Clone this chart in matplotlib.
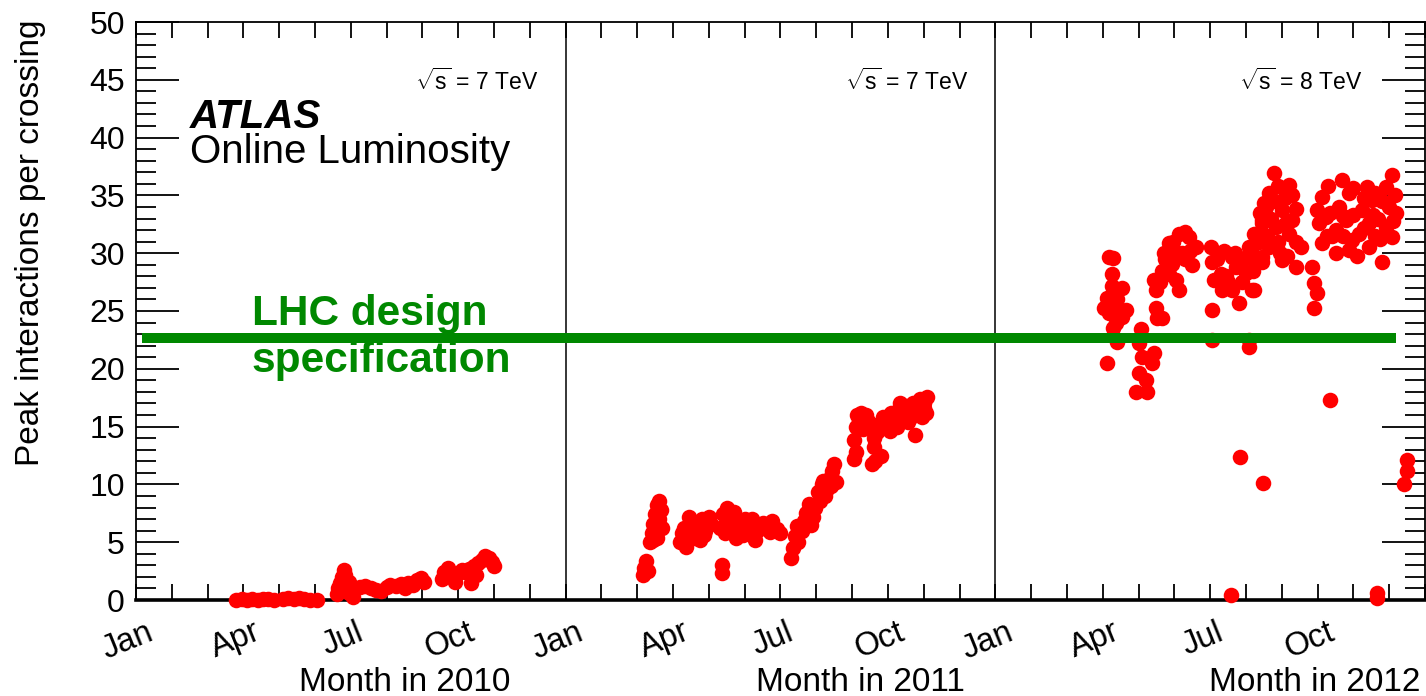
import matplotlib
matplotlib.use("Agg")
import matplotlib.pyplot as plt
import matplotlib.transforms as mtransforms
from matplotlib.ticker import MultipleLocator, FixedLocator, FixedFormatter

plt.rcParams["font.family"] = ["Liberation Sans", "DejaVu Sans"]
plt.rcParams["mathtext.fontset"] = "custom"
plt.rcParams["mathtext.rm"] = "Liberation Sans"

# months counted from Jan 2010 (0) to end of 2012 (36)
x_2010 = [2.8, 2.95, 3.1, 3.25, 3.4, 3.55, 3.7, 3.85,
          4.1, 4.25, 4.4, 4.55, 4.7, 4.85, 5.05,
          5.6, 5.65, 5.7, 5.75, 5.8, 5.85, 5.9, 5.95, 6.0, 6.05, 5.95,
          6.1, 6.25, 6.4, 6.55, 6.7, 6.85, 7.0, 7.1, 7.25, 7.4, 7.5,
          7.6, 7.75, 7.85, 7.95, 8.05,
          8.55, 8.6, 8.7, 8.8, 8.9, 9.0, 9.1, 9.2, 9.3, 9.35, 9.45,
          9.5, 9.55, 9.65, 9.75, 9.85, 9.95, 10.0]
y_2010 = [0.0, 0.05, 0.0, 0.1, 0.0, 0.05, 0.1, 0.0,
          0.1, 0.2, 0.1, 0.2, 0.1, 0.0, 0.0,
          0.5, 1.0, 1.5, 2.0, 2.6, 2.2, 1.2, 0.6, 0.8, 0.3, 1.6,
          1.0, 1.1, 1.2, 1.0, 0.9, 0.8, 1.1, 1.3, 1.2, 1.4, 1.0,
          1.5, 1.3, 1.7, 1.9, 1.6,
          1.8, 2.4, 2.8, 2.2, 1.6, 2.3, 2.6, 2.4, 2.7, 1.5, 2.9,
          2.2, 3.2, 3.5, 3.8, 3.6, 3.3, 2.9]

x_2011 = [14.15, 14.2, 14.25, 14.3,
          14.35, 14.4, 14.45, 14.5, 14.55, 14.6, 14.65, 14.7, 14.55, 14.5,
          14.45, 14.6,
          15.2, 15.3, 15.4, 15.5, 15.6, 15.7, 15.8, 15.9, 16.0, 16.05,
          15.35, 15.75, 15.25, 15.45, 15.65, 15.85, 15.55,
          16.38, 16.38,
          16.3, 16.4, 16.5, 16.55, 16.65, 16.75, 16.85, 16.95, 17.1, 17.2,
          17.35, 17.5, 17.6, 17.75, 17.9, 18.0, 17.3,
          16.45, 16.6, 16.7, 16.9, 17.0, 17.15, 17.4, 17.7,
          18.3, 18.35, 18.4, 18.45, 18.5, 18.6, 18.7, 18.8, 18.85, 18.95,
          19.05, 19.15, 19.25, 19.35, 19.45, 19.5, 19.55, 19.3,
          18.65, 18.9, 19.1, 19.2, 19.4,
          20.05, 20.05, 20.1, 20.15, 20.25, 20.35, 20.45, 20.55, 20.6,
          20.65, 20.7, 20.55, 20.85,
          20.1, 20.2, 20.3, 20.4, 20.6, 20.75, 20.8,
          21.0, 21.1, 21.2, 21.3, 21.4, 21.5, 21.6, 21.7, 21.8, 21.9,
          22.0, 22.05, 21.75, 21.55, 21.95,
          21.05, 21.25, 21.45, 21.65, 21.85, 22.0, 21.35, 22.1]
y_2011 = [2.2, 2.8, 3.4, 2.5,
          5.0, 5.8, 6.6, 7.4, 8.2, 8.6, 7.8, 6.2, 5.4, 6.0,
          5.2, 7.0,
          5.0, 6.2, 5.6, 6.8, 5.4, 6.5, 7.0, 6.0, 7.2, 6.6,
          4.6, 5.2, 5.8, 7.2, 6.0, 5.6, 6.4,
          3.0, 2.3,
          6.2, 7.4, 8.0, 6.0, 7.2, 5.4, 6.8, 5.6, 6.6, 7.0,
          6.0, 6.7, 6.3, 6.8, 6.1, 5.8, 5.2,
          5.8, 6.8, 7.6, 6.2, 7.0, 5.8, 6.5, 5.9,
          3.6, 4.5, 5.5, 6.4, 5.0, 6.0, 7.5, 8.3, 6.5, 8.0,
          9.3, 10.0, 9.0, 10.5, 11.2, 11.8, 10.2, 9.6,
          6.8, 7.2, 8.6, 10.3, 9.9,
          12.2, 13.8, 15.0, 16.0, 16.2, 15.8, 15.5, 15.0, 13.2,
          12.0, 14.5, 11.8, 15.8,
          12.8, 15.5, 14.8, 16.0, 14.0, 15.2, 12.5,
          15.5, 16.2, 15.8, 16.5, 16.0, 16.8, 16.3, 17.0, 16.5, 17.4,
          17.0, 16.2, 14.3, 15.4, 15.8,
          14.6, 15.0, 15.6, 15.8, 16.9, 16.6, 17.0, 17.6]

x_2012 = [27.18, 27.27, 27.54, 27.13, 27.40, 27.18, 27.54, 27.38, 27.40,
          27.13, 27.04, 27.66, 27.30, 27.24, 27.25, 27.45, 27.3,
          27.94, 28.24, 28.02, 28.38, 28.10, 28.44, 28.07, 28.02, 28.52,
          28.66, 28.49, 28.2,
          28.49, 28.44, 28.66, 28.94, 29.14, 29.05, 28.86, 29.14, 29.41,
          29.61, 29.50, 29.22, 28.72, 29.0, 29.3,
          28.75, 28.95, 29.3, 29.45, 28.6, 28.85,
          30.03, 30.06, 30.11, 30.34, 30.61, 30.73, 30.61, 30.81, 31.01,
          31.17, 31.28, 31.09, 31.28, 31.45, 31.51, 31.45, 30.06, 30.06,
          31.09, 31.09, 30.45, 30.9,
          30.2, 30.4, 30.5, 30.7, 30.95, 31.2, 30.3, 31.35,
          31.79, 32.21, 32.29, 31.65, 31.56, 32.01, 32.29, 31.45, 31.84,
          31.23, 32.21, 31.65, 31.17, 31.45, 32.01, 32.54, 32.40, 32.85,
          32.90, 32.99, 32.90, 31.23, 31.9, 31.8,
          31.4, 31.6, 31.7, 31.9, 32.1, 32.1, 32.4, 32.4, 31.95, 32.15,
          33.13, 32.99, 33.04, 33.13, 33.52, 33.68, 33.88, 33.60, 33.80,
          33.52, 33.96, 33.88, 34.38, 34.52, 34.24, 34.44, 34.16, 34.44,
          34.80, 35.08, 34.91, 35.00, 35.19, 34.91, 35.08, 33.24, 34.7,
          34.1, 33.4,
          33.3, 33.35, 33.7, 33.7, 34.0, 34.0, 34.3, 34.3, 34.6, 34.6,
          34.8, 34.75, 35.1, 35.15, 34.55, 33.25,
          30.59, 34.66, 34.66, 35.5, 35.5, 35.42, 30.84, 31.48, 33.35]
y_2012 = [29.7, 28.2, 27.0, 26.1, 26.0, 24.8, 24.5, 24.0, 22.3,
          20.5, 25.3, 25.1, 29.6, 25.5, 27.2, 25.0, 23.5,
          18.0, 18.0, 19.6, 20.5, 21.0, 21.4, 23.4, 22.2, 24.4,
          24.4, 25.3, 19.0,
          26.8, 27.7, 28.5, 29.1, 26.8, 27.7, 30.9, 31.7, 31.4,
          30.5, 29.0, 30.0, 30.0, 30.2, 29.5,
          29.5, 31.0, 31.8, 30.2, 27.5, 28.2,
          30.5, 29.2, 27.7, 26.8, 29.7, 28.8, 26.8, 25.7, 28.3,
          26.8, 29.2, 30.5, 31.7, 32.9, 34.3, 29.7, 25.1, 22.5,
          22.5, 21.9, 28.0, 27.5,
          29.5, 30.2, 27.5, 30.0, 29.5, 28.5, 28.2, 31.0,
          36.9, 35.9, 35.0, 35.2, 34.0, 33.7, 32.9, 32.6, 32.3,
          31.7, 31.7, 30.5, 30.0, 29.2, 29.4, 30.5, 28.8, 28.8,
          27.4, 26.6, 25.3, 26.8, 31.0, 34.5,
          33.5, 31.5, 33.0, 35.8, 34.8, 32.5, 33.8, 31.0, 30.0, 29.8,
          34.9, 33.7, 32.6, 30.9, 30.0, 36.3, 35.2, 34.0, 32.9,
          32.0, 31.1, 30.3, 35.7, 34.6, 33.7, 32.6, 31.7, 30.5,
          29.2, 36.8, 35.7, 34.0, 33.5, 32.3, 31.4, 33.1, 33.0,
          29.8, 31.5,
          35.8, 33.5, 31.5, 33.2, 33.3, 35.6, 34.8, 32.2, 31.5, 35.2,
          34.5, 31.2, 32.8, 35.0, 33.3, 31.5,
          0.4, 0.2, 0.6, 12.1, 11.2, 10.0, 12.4, 10.1, 17.3]

month_ticks = list(range(0, 37))
month_names = ["Jan", "Apr", "Jul", "Oct"]
year_labels = ["Month in 2010", "Month in 2011", "Month in 2012"]
energy_labels = [r"$\sqrt{\mathrm{s}}$ = 7 TeV", r"$\sqrt{\mathrm{s}}$ = 7 TeV",
                 r"$\sqrt{\mathrm{s}}$ = 8 TeV"]
design_mu = 22.7

W, H = 1426, 696
fig = plt.figure(figsize=(W / 100, H / 100), dpi=100)
ax = fig.add_axes([136 / W, 96 / H, (1425 - 136) / W, (600 - 22) / H])

for xs, ys in [(x_2010, y_2010), (x_2011, y_2011), (x_2012, y_2012)]:
    ax.plot(xs, ys, "o", color="#ff0000", ms=11.2, mec="none", zorder=3,
            clip_on=False)

# year separators
for xb in (12, 24):
    ax.axvline(xb, color="black", lw=1.1, zorder=2)

ax.plot([0.17, 35.19], [design_mu, design_mu], color="#008800", lw=7.2,
        solid_capstyle="butt", zorder=4)

ax.set_xlim(0, 36)
ax.set_ylim(0, 50)

ax.yaxis.set_major_locator(MultipleLocator(5))
ax.yaxis.set_minor_locator(MultipleLocator(1))
ax.tick_params(axis="y", which="major", direction="in", length=31, width=1.3,
               left=True, right=True, labelsize=23, pad=8)
ax.tick_params(axis="y", which="minor", direction="in", length=14.5, width=1.3,
               left=True, right=True)

ax.xaxis.set_major_locator(FixedLocator(month_ticks))
ax.xaxis.set_major_formatter(FixedFormatter(
    [month_names[m % 12 // 3] if (m % 3 == 0 and m < 36) else "" for m in month_ticks]))
ax.tick_params(axis="x", which="major", direction="in", length=11.5, width=1.3,
               top=True, bottom=True, labelsize=23.5, pad=12)
offset = mtransforms.ScaledTranslation(-0.08, 0, fig.dpi_scale_trans)
for lab in ax.get_xticklabels():
    lab.set_rotation(22)
    lab.set_ha("center")
    lab.set_transform(lab.get_transform() + offset)

for side in ("left", "top", "right"):
    ax.spines[side].set_linewidth(1.3)
ax.spines["bottom"].set_linewidth(2.6)

# labels placed in pixel positions of the original canvases
fig.text(31 / W, 1 - 20 / H, "Peak interactions per crossing", rotation=90,
         ha="center", va="top", fontsize=24)
for xr, txt in zip([510, 965, 1420], year_labels):
    fig.text(xr / W, 1 - 691 / H, txt, ha="right", va="baseline", fontsize=24)
for xr, txt in zip([538, 968, 1362], energy_labels):
    fig.text(xr / W, 1 - 90 / H, txt, ha="right", va="baseline", fontsize=16.5)

fig.text(190 / W, 1 - 128 / H, "ATLAS", fontsize=29, fontweight="bold",
         fontstyle="italic", va="baseline")
fig.text(190 / W, 1 - 163 / H, "Online Luminosity", fontsize=29,
         va="baseline")
fig.text(252 / W, 1 - 325 / H, "LHC design", fontsize=30.5, fontweight="bold",
         color="#008800", va="baseline")
fig.text(252 / W, 1 - 372 / H, "specification", fontsize=30.5,
         fontweight="bold", color="#008800", va="baseline")

fig.savefig("out.png", dpi=100)
